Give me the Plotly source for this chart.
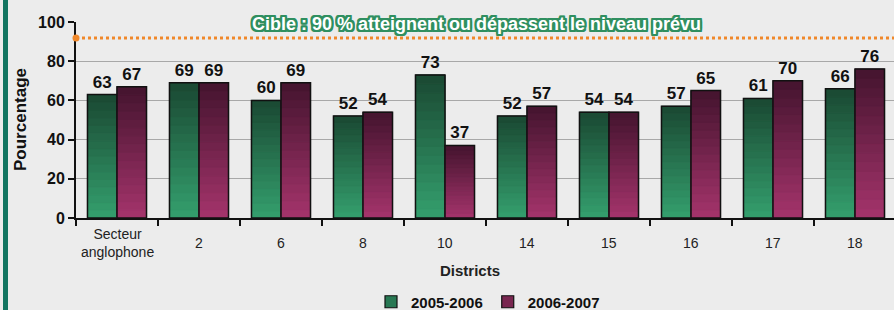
import plotly.graph_objects as go

# ---- data ----
districts = ["Secteur<br>anglophone", "2", "6", "8", "10", "14", "15", "16", "17", "18"]
y_2005_2006 = [63, 69, 60, 52, 73, 52, 54, 57, 61, 66]
y_2006_2007 = [67, 69, 69, 54, 37, 57, 54, 65, 70, 76]
series_names = ["2005-2006", "2006-2007"]
target_value = 91.8
target_label = "Cible : 90 % atteignent ou dépassent le niveau prévu"
y_tick_values = [0, 20, 40, 60, 80, 100]
x_title = "Districts"
y_title = "Pourcentage"

# ---- styles ----
W, H = 894, 310
ML, MR, MT, MB = 76, 0, 22, 92
PW = W - ML - MR
PH = H - MT - MB
green_bottom, green_top = (52, 160, 110), (26, 72, 50)
purple_bottom, purple_top = (165, 52, 108), (68, 20, 46)
N_SEG = 16
FONT = "Liberation Sans, Arial, sans-serif"
ORANGE = "#f0882a"


def lerp(c0, c1, t):
    return "rgb(%d,%d,%d)" % tuple(round(a + (b - a) * t) for a, b in zip(c0, c1))


fig = go.Figure()
series = [(y_2005_2006, green_bottom, green_top, "g"), (y_2006_2007, purple_bottom, purple_top, "p")]
for (vals, cb, ct, grp), name in zip(series, series_names):
    # gradient via stacked slices of each bar
    for k in range(N_SEG):
        col = lerp(cb, ct, (k + 0.5) / N_SEG)
        fig.add_trace(go.Bar(
            x=districts, y=[v / N_SEG for v in vals], base=[v * k / N_SEG for v in vals],
            offsetgroup=grp, marker=dict(color=col, line=dict(width=1, color=col)),
            showlegend=False, hoverinfo="skip"))
    # outline + value labels
    fig.add_trace(go.Bar(
        x=districts, y=vals, offsetgroup=grp,
        marker=dict(color="rgba(0,0,0,0)", line=dict(color="#111", width=1.5)),
        text=[str(v) for v in vals], textposition="outside", cliponaxis=False,
        textfont=dict(family="Liberation Sans Narrow, Arial Narrow, " + FONT, size=17, color="#111",
                      weight="bold"),
        showlegend=False))
    # legend entry
    fig.add_trace(go.Bar(
        x=[districts[0]], y=[None], offsetgroup=grp, name=name,
        marker=dict(color=lerp(cb, ct, 0.45), line=dict(color="#111", width=1.2))))

annotations = []
# x category labels (vertically centred like the reference)
for i, d in enumerate(districts):
    annotations.append(dict(x=i, xref="x", y=-(243 - 218) / PH, yref="paper", text=d,
                            showarrow=False, yanchor="middle", xanchor="center",
                            font=dict(family=FONT, size=14, color="#222")))
ol = "#2f8f60"
sh = ", ".join(f"{dx}px {dy}px 0 {ol}" for dx, dy in
               [(-2, -2), (2, -2), (-2, 2), (2, 2), (0, 2), (0, -2), (2, 0), (-2, 0),
                (-1, -2), (1, -2), (-1, 2), (1, 2), (2, 1), (2, -1), (-2, 1), (-2, -1)])
annotations.append(dict(
    x=(476 - ML) / PW, xref="paper", y=(218 - 24) / PH, yref="paper", text=target_label,
    showarrow=False, xanchor="center", yanchor="middle",
    font=dict(family=FONT, size=18, color="white", weight="bold", shadow=sh)))
annotations.append(dict(
    x=(470 - ML) / PW, xref="paper", y=-(270 - 218) / PH, yref="paper", text=x_title,
    showarrow=False, xanchor="center", yanchor="middle",
    font=dict(family=FONT, size=15, color="#222", weight="bold")))
annotations.append(dict(
    x=(20 - ML) / PW, xref="paper", y=(218 - 120) / PH, yref="paper", text=y_title, textangle=-90,
    showarrow=False, xanchor="center", yanchor="middle",
    font=dict(family=FONT, size=17, color="#111", weight="bold")))

shapes = [
    dict(type="line", xref="paper", yref="paper",
         x0=(5.5 - ML) / PW, x1=(5.5 - ML) / PW, y0=-1, y1=2,
         line=dict(color="#137561", width=5), layer="below"),
    # target line
    dict(type="line", xref="paper", yref="y", x0=0, x1=1, y0=target_value, y1=target_value,
         line=dict(color=ORANGE, width=3, dash="dot"), layer="above"),
    dict(type="circle", xref="paper", yref="y", xsizemode="pixel", ysizemode="pixel",
         xanchor=0, yanchor=target_value, x0=-3.5, x1=3.5, y0=-3.5, y1=3.5,
         fillcolor=ORANGE, line=dict(width=0), layer="above"),
]

fig.update_layout(
    width=W, height=H, margin=dict(l=ML, r=MR, t=MT, b=MB, autoexpand=False),
    paper_bgcolor="#ececec", plot_bgcolor="rgba(0,0,0,0)",
    barmode="group", bargap=0.28, bargroupgap=0,
    annotations=annotations, shapes=shapes,
    legend=dict(orientation="h", x=(488 - ML) / PW, xanchor="center", y=-(302 - 218) / PH, yanchor="middle",
                font=dict(family=FONT, size=15, color="#111", weight="bold"),
                bgcolor="rgba(0,0,0,0)", itemwidth=30, tracegroupgap=0),
    xaxis=dict(range=[-0.5, 9.5 - 2 / 82], showticklabels=False, ticks="outside", tickson="boundaries",
               ticklen=6, tickwidth=2, tickcolor="#111", showline=True, linecolor="#111", linewidth=2,
               showgrid=False, fixedrange=True),
    yaxis=dict(range=[0, 100], tickvals=y_tick_values, ticks="outside", ticklen=6, tickwidth=2,
               tickcolor="#111", showline=True, linecolor="#111", linewidth=2,
               showgrid=True, gridcolor="#a8a8a8", gridwidth=1, zeroline=False,
               tickfont=dict(family=FONT, size=16, color="#111", weight="bold"), fixedrange=True),
    showlegend=True,
)

fig.write_html("out.html", config={"displayModeBar": False},
               post_script="document.body.style.margin='0';document.body.style.overflow='hidden';")
